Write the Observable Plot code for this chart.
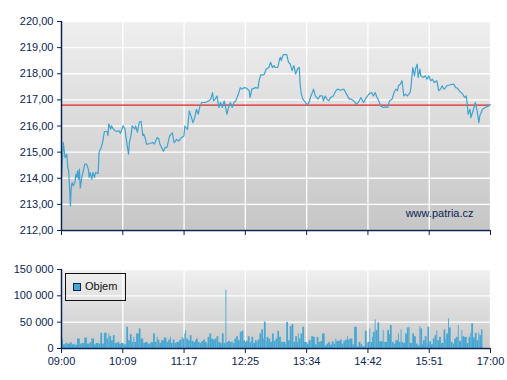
<!DOCTYPE html>
<html>
<head>
<meta charset="utf-8">
<script src="https://cdn.jsdelivr.net/npm/d3@7"></script>
<script src="https://cdn.jsdelivr.net/npm/@observablehq/plot@0.6"></script>
<style>
  body { margin: 0; background: #fff; font-family: "Liberation Sans", Arial, sans-serif; }
  #wrap { position: relative; width: 507px; height: 380px; overflow: hidden; }
  #top { position: absolute; left: 0; top: 0; }
  #bot { position: absolute; left: 0; top: 240px; }
  #legend { position: absolute; left: 65px; top: 273px; width: 59px; height: 26px; border: 1px solid #111; box-sizing: content-box; }
  #legend .sw { position: absolute; left: 7px; top: 9px; width: 6px; height: 6px; border: 1px solid #0a2456; background: #47a7d3; }
  #legend .lb { position: absolute; left: 19px; top: 6px; font-size: 11px; line-height: 13px; color: #111; }
</style>
</head>
<body>
<div id="wrap">
  <div id="top"></div>
  <div id="bot"></div>
  <div id="legend"><div class="sw"></div><div class="lb">Objem</div></div>
</div>
<script>
// ---- data ----
// price: [minutes after 09:00, price]
const price = [
[0,214.00],[2,215.37],[4,214.79],[6,214.92],[7,214.41],[8,214.28],[9,213.64],[10,212.94],[11,213.71],[12,213.83],
[13,213.71],[15,213.83],[16,214.15],[17,214.03],[18,214.28],[19,213.96],[20,214.35],[21,213.62],[23,214.09],[24,214.22],
[26,214.54],[28,214.54],[30,214.35],[31,214.03],[32,214.22],[34,213.96],[35,214.22],[37,214.03],[38,214.22],[41,214.18],
[42,214.99],[44,215.15],[46,215.37],[48,215.79],[51,215.79],[52,215.63],[53,216.08],[55,215.88],[56,216.01],[58,215.88],
[60,215.82],[62,215.79],[64,215.82],[66,215.72],[67,215.82],[69,216.01],[71,215.88],[73,215.37],[75,214.92],[76,215.37],
[78,215.69],[79,216.01],[82,215.88],[83,216.01],[85,215.76],[86,215.95],[87,216.14],[89,216.18],[91,215.63],[92,215.69],
[94,215.50],[95,215.31],[97,215.31],[99,215.33],[102,215.37],[104,215.31],[107,215.56],[109,215.50],[110,215.31],[112,215.18],
[114,215.03],[116,215.18],[118,215.18],[121,215.62],[124,215.74],[126,215.36],[129,215.49],[131,215.42],[134,215.55],[137,215.62],
[138,216.00],[141,215.87],[143,216.58],[145,216.38],[147,216.13],[149,216.32],[151,216.64],[153,216.45],[155,216.77],[157,216.90],
[161,216.90],[165,216.96],[167,217.03],[169,217.28],[170,216.96],[172,217.03],[174,217.15],[176,216.71],[178,216.90],[180,216.71],
[182,216.96],[183,216.83],[185,216.45],[187,216.71],[189,216.90],[191,216.71],[193,216.90],[195,216.96],[197,217.15],[198,217.22],
[200,217.47],[202,217.41],[204,217.47],[207,217.45],[210,217.35],[211,217.09],[213,217.41],[217,217.47],[220,217.45],[221,217.73],
[223,217.96],[226,217.96],[227,217.99],[229,218.18],[232,218.24],[234,218.44],[236,218.24],[238,218.31],[239,218.24],[242,218.24],
[244,218.56],[245,218.63],[246,218.50],[248,218.73],[252,218.73],[254,218.44],[256,218.37],[258,218.12],[260,218.31],[262,217.99],
[264,218.18],[266,218.24],[267,217.60],[268,217.28],[270,217.03],[273,216.90],[275,216.81],[277,216.90],[279,217.15],[280,217.22],
[282,217.41],[284,217.15],[287,217.03],[289,217.15],[292,217.15],[293,216.96],[295,217.15],[297,217.03],[299,216.96],[301,217.09],
[304,217.15],[307,217.35],[309,217.41],[312,217.37],[316,217.41],[319,217.22],[322,217.03],[324,217.03],[327,216.96],[330,216.83],
[333,216.96],[335,217.09],[338,216.90],[341,217.09],[344,217.22],[347,217.28],[349,217.15],[351,217.28],[353,217.09],[355,216.96],
[357,216.77],[360,216.71],[362,216.73],[365,216.71],[367,216.96],[370,217.03],[372,217.28],[374,217.41],[376,217.35],[377,217.54],
[379,217.60],[381,217.73],[383,217.15],[385,217.22],[387,217.15],[390,217.28],[391,217.47],[393,218.24],[395,217.92],[396,218.18],
[398,218.37],[399,217.86],[401,218.18],[402,217.92],[405,217.86],[407,217.92],[409,217.79],[411,217.92],[413,217.73],[415,217.79],
[417,217.67],[420,217.73],[422,217.35],[424,217.41],[426,217.54],[428,217.41],[430,217.47],[431,217.54],[435,217.58],[439,217.60],
[441,217.47],[443,217.45],[445,217.35],[447,217.28],[449,217.22],[451,217.09],[453,217.15],[455,216.45],[457,216.64],[458,216.32],
[461,216.64],[463,216.90],[465,216.58],[467,216.13],[468,216.38],[471,216.64],[474,216.71],[478,216.77],[480,216.81]
];
// volume: [minutes after 09:00, shares]
const volume = [
[0,18000],[2,7000],[5,9600],[7,8300],[10,10900],[12,7000],[15,8300],[16,5800],[18,18000],[21,8300],[23,9600],[26,19900],
[29,8300],[32,10900],[34,18000],[37,7000],[39,9600],[42,8300],[44,28800],[46,8300],[48,28800],[51,18000],[53,27600],[54,22400],
[56,14700],[58,24400],[60,9600],[63,11500],[65,8300],[67,9600],[70,7000],[73,40400],[75,14700],[77,26300],[79,11500],[81,21200],
[82,11500],[84,27600],[87,37200],[89,18000],[92,9600],[94,11500],[97,8300],[100,10900],[103,27600],[105,11500],[107,21200],[108,16000],
[110,9600],[112,14700],[115,19900],[118,11500],[120,16000],[122,21200],[123,9600],[125,16000],[127,9600],[129,11500],[132,14700],[133,16000],
[135,21200],[136,18000],[138,27600],[139,34000],[140,18000],[142,14700],[144,24400],[146,13500],[148,11500],[150,14700],[151,18000],[153,11500],
[155,9600],[157,12800],[159,16000],[161,11500],[163,8300],[164,21200],[166,27600],[168,18000],[170,16000],[172,18000],[174,22400],[176,11500],
[178,9600],[180,27600],[182,9600],[184,111000],[185,11500],[187,13500],[189,11500],[191,12800],[192,9600],[194,18000],[196,22400],[198,14700],
[200,30800],[202,32700],[204,14700],[206,11500],[207,13500],[209,22400],[211,11500],[213,21200],[215,9600],[217,14700],[219,11500],[220,16000],
[222,27600],[224,35300],[226,18000],[227,50000],[229,13500],[230,21200],[232,18000],[234,11500],[236,27600],[238,13500],[240,18000],[242,32700],
[244,21200],[246,11500],[248,11500],[251,8300],[252,49400],[254,14700],[256,41700],[258,45500],[260,11500],[262,22400],[264,11500],[265,27600],
[266,18000],[268,27600],[270,40400],[272,11500],[275,8300],[277,14700],[279,14700],[280,22400],[282,21200],[284,7000],[286,21200],[288,11500],
[290,12800],[292,27600],[295,5100],[297,8300],[299,11500],[301,6400],[303,12800],[305,8300],[307,18000],[308,13500],[310,13500],[312,16000],
[314,8300],[316,13500],[318,16000],[320,22400],[321,16000],[323,18000],[326,7000],[328,40400],[331,3200],[333,11500],[335,7000],[337,3200],
[340,32700],[342,9600],[343,11500],[345,37200],[346,11500],[348,21200],[349,30800],[351,54500],[352,34000],[354,48700],[356,12800],[358,12800],
[360,34000],[361,11500],[362,11500],[365,34000],[367,26300],[368,43600],[370,11500],[372,8300],[374,14700],[377,27600],[378,11500],[380,35300],
[381,11500],[383,9600],[385,27600],[387,39100],[389,40400],[390,9600],[393,27600],[395,22400],[397,8300],[399,5100],[401,41700],[402,37200],
[404,7000],[405,14700],[407,22400],[409,8300],[410,40400],[412,12800],[414,7000],[416,18000],[418,24400],[420,34000],[421,14700],[423,21200],
[425,9600],[428,35300],[430,18000],[431,27600],[433,56400],[434,39100],[436,11500],[438,8300],[440,18000],[442,21200],[444,43600],[445,13500],
[448,34000],[449,22400],[451,21200],[454,9600],[456,21200],[458,28800],[459,46800],[461,19900],[463,28800],[465,14700],[467,28800],[468,24400],
[470,35300]
];
const xTickLabels = ["09:00","10:09","11:17","12:25","13:34","14:42","15:51","17:00"];
const priceTicks = [212,213,214,215,216,217,218,219,220];
const volumeTicks = [0,50000,100000,150000];
const referencePrice = 216.80;
const watermark = "www.patria.cz";

// ---- derived ----
const sessionMinutes = 480;
const xTickPos = xTickLabels.map((_, i) => i * sessionMinutes / (xTickLabels.length - 1));
const xLabelOf = new Map(xTickPos.map((p, i) => [p, xTickLabels[i]]));
const priceData = price.map(([t, v]) => ({t, v}));
const volData = volume.map(([t, v], i) => ({t, t2: i + 1 < volume.length ? volume[i + 1][0] : t + 1.5, v}));
const navy = "#0a2456";
const font = "'Liberation Sans', Arial, sans-serif";
const volFmt = d3.formatLocale({decimal: ",", thousands: " ", grouping: [3], currency: ["", ""]}).format(",");

function addGradient(svg, id, c0, c1) {
  const ns = "http://www.w3.org/2000/svg";
  const defs = document.createElementNS(ns, "defs");
  const g = document.createElementNS(ns, "linearGradient");
  g.setAttribute("id", id);
  g.setAttribute("x1", "0"); g.setAttribute("y1", "0");
  g.setAttribute("x2", "0"); g.setAttribute("y2", "1");
  [[0, c0], [1, c1]].forEach(([o, c]) => {
    const s = document.createElementNS(ns, "stop");
    s.setAttribute("offset", o);
    s.setAttribute("stop-color", c);
    g.appendChild(s);
  });
  defs.appendChild(g);
  svg.insertBefore(defs, svg.firstChild);
}

const topPlot = Plot.plot({
  width: 507, height: 240,
  marginLeft: 61, marginRight: 17, marginTop: 21, marginBottom: 10,
  style: {background: "transparent", fontFamily: font, fontSize: "11px", color: navy},
  x: {domain: [0, sessionMinutes]},
  y: {domain: [212, 220]},
  marks: [
    Plot.frame({fill: "url(#gTop)"}),
    Plot.gridX(xTickPos, {stroke: "#fff", strokeOpacity: 1, strokeWidth: 1.3}),
    Plot.gridY(priceTicks, {stroke: "#fff", strokeOpacity: 1, strokeWidth: 1.3}),
    Plot.ruleY([referencePrice], {stroke: "#e02424", strokeWidth: 1.4}),
    Plot.line(priceData, {x: "t", y: "v", stroke: "#3fa3d1", strokeWidth: 1.2}),
    Plot.text([watermark], {frameAnchor: "bottom-right", dx: -17, dy: -17, textAnchor: "end", lineAnchor: "middle", fill: navy, fontSize: 11}),
    Plot.axisY(priceTicks, {tickSize: 4, tickPadding: 4, tickFormat: d => d.toFixed(2).replace(".", ","), label: null, stroke: navy, fill: navy}),
    Plot.axisX(xTickPos, {tickSize: 5, tickFormat: () => "", label: null, stroke: navy}),
    Plot.ruleX([0], {stroke: navy, strokeWidth: 1.5}),
    Plot.ruleY([212], {stroke: navy, strokeWidth: 1.5})
  ]
});
addGradient(topPlot, "gTop", "#efefef", "#c6c6c6");
document.getElementById("top").appendChild(topPlot);

const botPlot = Plot.plot({
  width: 507, height: 140,
  marginLeft: 61, marginRight: 17, marginTop: 29, marginBottom: 32,
  style: {background: "transparent", fontFamily: font, fontSize: "11px", color: navy},
  x: {domain: [0, sessionMinutes]},
  y: {domain: [0, 150000]},
  marks: [
    Plot.frame({fill: "url(#gBot)"}),
    Plot.gridX(xTickPos, {stroke: "#fff", strokeOpacity: 1, strokeWidth: 1.3}),
    Plot.gridY(volumeTicks, {stroke: "#fff", strokeOpacity: 1, strokeWidth: 1.3}),
    Plot.rectY(volData, {x1: "t", x2: "t2", y: "v", fill: "#47a7d3"}),
    Plot.axisY(volumeTicks, {tickSize: 4, tickPadding: 4, tickFormat: volFmt, label: null, stroke: navy, fill: navy}),
    Plot.axisX(xTickPos, {tickSize: 5, tickPadding: 4, tickFormat: d => xLabelOf.get(d), label: null, stroke: navy, fill: navy}),
    Plot.ruleX([0], {stroke: navy, strokeWidth: 1.5}),
    Plot.ruleY([0], {stroke: navy, strokeWidth: 1.5})
  ]
});
addGradient(botPlot, "gBot", "#f0f0f0", "#c9c9c9");
document.getElementById("bot").appendChild(botPlot);
</script>
</body>
</html>
